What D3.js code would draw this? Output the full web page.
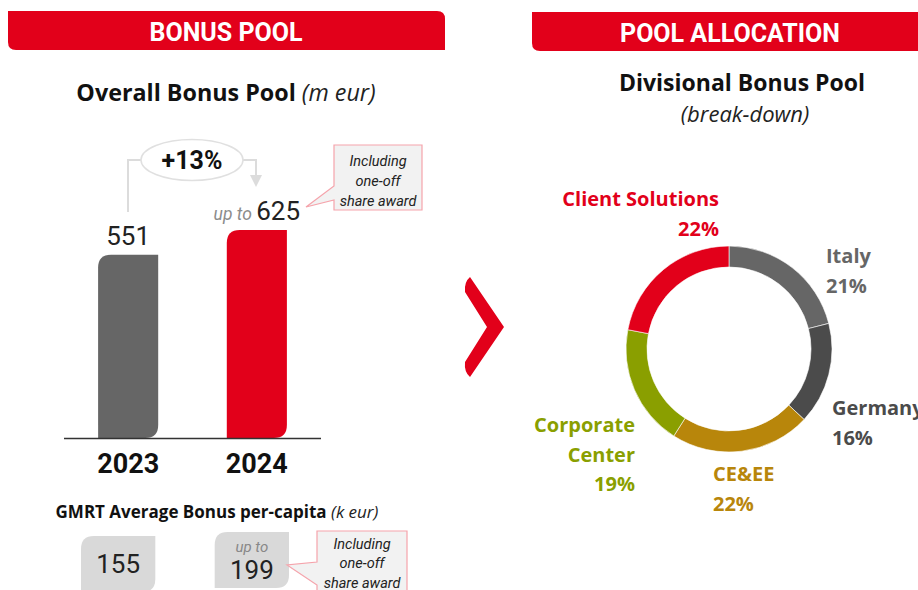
<!DOCTYPE html>
<html>
<head>
<meta charset="utf-8">
<script src="https://cdn.jsdelivr.net/npm/d3@7.9.0/dist/d3.min.js"></script>
<style>
  body { margin: 0; background: #fff; }
  svg { display: block; font-family: "Open Sans", Roboto, sans-serif; }
  .rb { font-family: Roboto, "Open Sans", sans-serif; }
</style>
</head>
<body>
<div id="chart"></div>
<script>
// --- data ---
const years = ['2023', '2024'];
const poolValues = [551, 625];
const poolPrefix = ['', 'up to'];
const growthLabel = '+13%';
const perCapitaValues = [155, 199];
const perCapitaPrefix = ['', 'up to'];
const noteLines = ['Including', 'one-off', 'share award'];
const divisions = ['Italy', 'Germany', 'CE&EE', 'Corporate Center', 'Client Solutions'];
const divisionShares = [21, 16, 22, 19, 22];

// --- styling / layout ---
const RED = '#e2001a';
const divisionColors = ['#666666', '#4b4b4b', '#b8860b', '#8a9f00', RED];
// label anchor per division: x, baseline of first line, text-anchor, name lines
const labelLayout = {
  'Italy': { x: 826, y: 263, anchor: 'start', name: ['Italy'] },
  'Germany': { x: 832, y: 415, anchor: 'start', name: ['Germany'] },
  'CE&EE': { x: 713, y: 481, anchor: 'start', name: ['CE&EE'] },
  'Corporate Center': { x: 635, y: 432, anchor: 'end', name: ['Corporate', 'Center'] },
  'Client Solutions': { x: 719, y: 206, anchor: 'end', name: ['Client Solutions'] },
};

const width = 918, height = 590;
const svg = d3.select('#chart').append('svg')
  .attr('width', width).attr('height', height)
  .attr('viewBox', `0 0 ${width} ${height}`);

// leaf shaped rect: rounded top-left & bottom-right corners
function leaf(x, y, w, h, r) {
  return `M${x + r},${y} H${x + w} V${y + h - r} Q${x + w},${y + h} ${x + w - r},${y + h} H${x} V${y + r} Q${x},${y} ${x + r},${y} Z`;
}

// --- banners ---
function banner(x, y, w, h, label, cx) {
  const r = 8;
  svg.append('path')
    .attr('d', `M${x},${y} H${x + w - r} Q${x + w},${y} ${x + w},${y + r} V${y + h} H${x + r} Q${x},${y + h} ${x},${y + h - r} Z`)
    .attr('fill', RED);
  svg.append('text').attr('class', 'rb').attr('x', cx).attr('y', y + 30)
    .attr('text-anchor', 'middle').attr('fill', '#fff')
    .attr('font-size', 25).attr('font-weight', 700).text(label);
}
banner(8, 11, 437, 39, 'BONUS POOL', 226);
banner(532, 12, 400, 39, 'POOL ALLOCATION', 730);

// --- left: overall bonus pool bars ---
const t1 = svg.append('text').attr('x', 226).attr('y', 101).attr('text-anchor', 'middle').attr('font-size', 23.3);
t1.append('tspan').attr('font-weight', 700).attr('fill', '#111').text('Overall Bonus Pool ');
t1.append('tspan').attr('font-style', 'italic').attr('fill', '#222').text('(m eur)');

const x = d3.scaleBand().domain(years).range([64, 321]).paddingInner(0.533).paddingOuter(0.265);
const y = d3.scaleLinear().domain([0, 625]).range([438, 230]);

const bars = svg.append('g');
years.forEach((yr, i) => {
  const bx = x(yr), bw = x.bandwidth(), by = y(poolValues[i]);
  bars.append('path')
    .attr('d', leaf(bx, by, bw, y(0) - by, 13))
    .attr('fill', i === 0 ? '#666666' : RED);
});

svg.append('line').attr('x1', 64).attr('x2', 321).attr('y1', 438.5).attr('y2', 438.5)
  .attr('stroke', '#333').attr('stroke-width', 1.5);

svg.append('g').selectAll('text').data(years).join('text')
  .attr('class', 'rb')
  .attr('x', d => x(d) + x.bandwidth() / 2).attr('y', 473)
  .attr('text-anchor', 'middle').attr('font-size', 27).attr('font-weight', 700).attr('fill', '#111')
  .text(d => d);

// value labels
years.forEach((yr, i) => {
  const cx = x(yr) + x.bandwidth() / 2;
  const ly = y(poolValues[i]) - 10;
  if (poolPrefix[i]) {
    const t = svg.append('text').attr('class', 'rb').attr('x', 300).attr('y', ly).attr('text-anchor', 'end');
    t.append('tspan').attr('font-size', 17.5).attr('font-style', 'italic').attr('fill', '#8c8c8c').text(poolPrefix[i] + ' ');
    t.append('tspan').attr('font-size', 26).attr('fill', '#222').text(poolValues[i]);
  } else {
    svg.append('text').attr('class', 'rb').attr('x', cx).attr('y', ly).attr('text-anchor', 'middle')
      .attr('font-size', 26).attr('fill', '#222').text(poolValues[i]);
  }
});

// growth connector
const conn = svg.append('g').attr('stroke', '#dcdcdc').attr('stroke-width', 2).attr('fill', 'none');
conn.append('path').attr('d', 'M128,212 V160 H142');
conn.append('path').attr('d', 'M243,160 H256 V176');
svg.append('path').attr('d', 'M250,175 L262,175 L256,187 Z').attr('fill', '#dcdcdc');
svg.append('ellipse').attr('cx', 192).attr('cy', 160).attr('rx', 51).attr('ry', 20.5)
  .attr('fill', '#fff').attr('stroke', '#e0e0e0').attr('stroke-width', 1.5);
svg.append('text').attr('class', 'rb').attr('x', 192).attr('y', 169).attr('text-anchor', 'middle')
  .attr('font-size', 25).attr('font-weight', 700).attr('fill', '#111').text(growthLabel);

// callout notes
function callout(bx, by, bw, bh, tip, base, baselines) {
  const g = svg.append('g');
  g.append('path')
    .attr('d', `M${bx},${by} H${bx + bw} V${by + bh} H${bx} V${base[1]} L${tip[0]},${tip[1]} L${bx},${base[0]} Z`)
    .attr('fill', '#f2f2f2').attr('stroke', '#f5a3ab').attr('stroke-width', 1.2);
  g.selectAll('text').data(noteLines).join('text')
    .attr('class', 'rb')
    .attr('x', bx + bw / 2).attr('y', (d, i) => baselines[i])
    .attr('text-anchor', 'middle').attr('font-size', 14.5).attr('font-style', 'italic').attr('fill', '#222')
    .text(d => d);
}
callout(334, 145, 88, 65, [306, 207], [186, 200], [166, 186, 206]);

// --- per-capita ---
const t2 = svg.append('text').attr('x', 217).attr('y', 518).attr('text-anchor', 'middle').attr('font-size', 17);
t2.append('tspan').attr('font-weight', 700).attr('fill', '#111').text('GMRT Average Bonus per-capita ');
t2.append('tspan').attr('font-style', 'italic').attr('fill', '#222').text('(k eur)');

const xb = d3.scaleBand().domain(years).range([81, 289]).paddingInner(0.444).paddingOuter(0);
const boxTop = [536, 532];
years.forEach((yr, i) => {
  const bx = xb(yr), bw = xb.bandwidth();
  svg.append('path').attr('d', leaf(bx, boxTop[i], bw, 56, 13)).attr('fill', '#d9d9d9');
  const cx = bx + bw / 2;
  if (perCapitaPrefix[i]) {
    svg.append('text').attr('class', 'rb').attr('x', cx).attr('y', 552).attr('text-anchor', 'middle')
      .attr('font-size', 15).attr('font-style', 'italic').attr('fill', '#888').text(perCapitaPrefix[i]);
    svg.append('text').attr('class', 'rb').attr('x', cx).attr('y', 579).attr('text-anchor', 'middle')
      .attr('font-size', 26).attr('fill', '#222').text(perCapitaValues[i]);
  } else {
    svg.append('text').attr('class', 'rb').attr('x', cx).attr('y', 573).attr('text-anchor', 'middle')
      .attr('font-size', 26).attr('fill', '#222').text(perCapitaValues[i]);
  }
});
callout(317, 531, 90, 70, [287, 565], [562, 585], [549, 568, 588]);

// --- chevron ---
svg.append('path')
  .attr('d', 'M470,277 L504,327 L470,377 Q464,372 465,362 L487,327 L465,292 Q464,282 470,277 Z')
  .attr('fill', RED);

// --- right: donut ---
svg.append('text').attr('x', 742).attr('y', 91).attr('text-anchor', 'middle')
  .attr('font-size', 23).attr('font-weight', 700).attr('fill', '#111').text('Divisional Bonus Pool');
svg.append('text').attr('x', 745).attr('y', 122).attr('text-anchor', 'middle')
  .attr('font-size', 22).attr('font-style', 'italic').attr('fill', '#222').text('(break-down)');

const pie = d3.pie().sort(null).value(d => d)(divisionShares);
const arc = d3.arc().innerRadius(82).outerRadius(103);
const donut = svg.append('g').attr('transform', 'translate(729,349)');
donut.selectAll('path').data(pie).join('path')
  .attr('d', arc)
  .attr('fill', (d, i) => divisionColors[i])
  .attr('stroke', '#fff').attr('stroke-width', 0.6);

divisions.forEach((name, i) => {
  const L = labelLayout[name];
  const lines = [...L.name, divisionShares[i] + '%'];
  svg.append('text')
    .attr('text-anchor', L.anchor).attr('font-size', 20).attr('font-weight', 700)
    .attr('fill', divisionColors[i])
    .selectAll('tspan').data(lines).join('tspan')
    .attr('x', L.x).attr('y', (d, j) => L.y + j * 29.5)
    .text(d => d);
});
</script>
</body>
</html>
